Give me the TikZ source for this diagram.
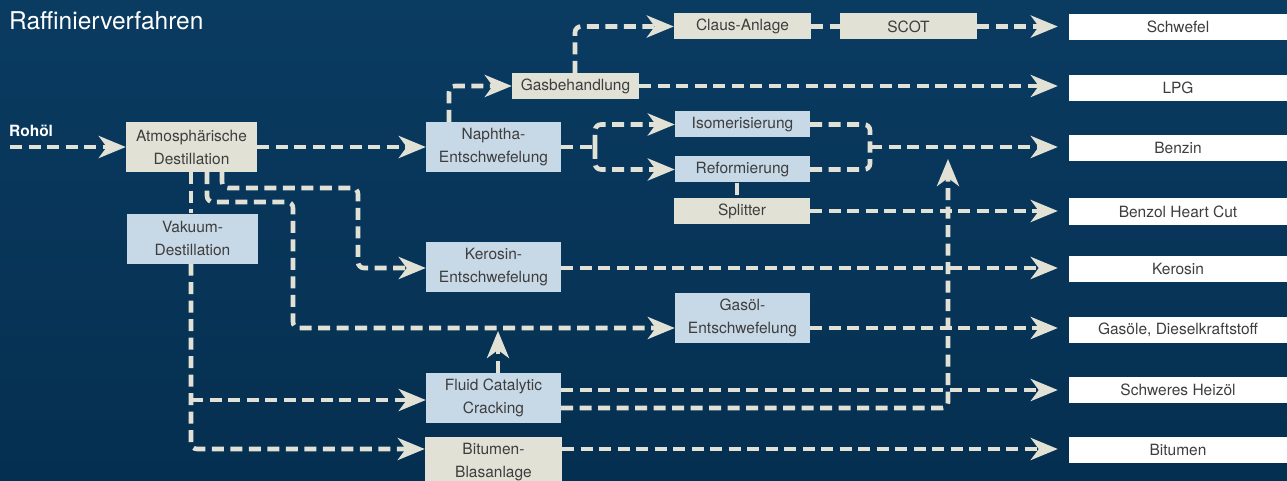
\documentclass[tikz,border=0pt]{standalone}
\usepackage{fontspec}
\setmainfont{TeX Gyre Heros}
\usetikzlibrary{arrows.meta,calc}
\definecolor{bgtop}{HTML}{0A3B61}
\definecolor{bgbot}{HTML}{052F50}
\definecolor{beige}{HTML}{E2E1D6}
\definecolor{lblue}{HTML}{C7D8E6}
\definecolor{txt}{HTML}{3E3E3E}
\begin{document}
\begin{tikzpicture}[x=1pt,y=-1pt,
  basebox/.style={inner sep=0pt, text=txt, font=\fontsize{15.5}{23}\selectfont, align=center},
  pbox/.style={basebox, fill=beige},
  bbox/.style={basebox, fill=lblue},
  obox/.style={basebox, fill=white, minimum width=218pt, minimum height=26pt},
  conn/.style={draw=beige, line width=4.6pt, dash pattern=on 12pt off 6.5pt, rounded corners=6pt},
  flow/.style={conn, -{Stealth[length=27pt,width=22pt,inset=8pt]}},
  outflow/.style={flow, shorten >=11pt}
]
\useasboundingbox (0,0) rectangle (1287,481);
\shade[top color=bgtop, bottom color=bgbot] (0,0) rectangle (1287,481);

% title and input label
\node[anchor=base west, inner sep=0pt, text=white, font=\fontsize{24.5}{28}\selectfont] (title) at (9,30) {Raffinierverfahren};
\node[anchor=base west, inner sep=0pt, text=white, font=\bfseries\fontsize{15.5}{18}\selectfont] (rohoel) at (9,136.5) {Rohöl};
\coordinate (in) at (10,147);

% process boxes
\node[pbox, minimum width=131pt, minimum height=50pt] (atm) at (191.5,147) {Atmosphärische\\Destillation};
\node[bbox, minimum width=131pt, minimum height=50pt] (vak) at (192.5,238.5) {Vakuum-\\Destillation};
\node[bbox, minimum width=135pt, minimum height=50pt] (nap) at (493.5,147) {Naphtha-\\Entschwefelung};
\node[pbox, minimum width=127pt, minimum height=26pt] (gas) at (575.5,86) {Gasbehandlung};
\node[pbox, minimum width=137pt, minimum height=26pt] (claus) at (742.5,26.5) {Claus-Anlage};
\node[pbox, minimum width=137pt, minimum height=26pt] (scot) at (908.5,26.5) {SCOT};
\node[bbox, minimum width=135pt, minimum height=26pt] (iso) at (742.5,124.5) {Isomerisierung};
\node[bbox, minimum width=135pt, minimum height=26pt] (ref) at (742.5,169.5) {Reformierung};
\node[pbox, minimum width=136pt, minimum height=26pt] (spl) at (742,211) {Splitter};
\node[bbox, minimum width=135pt, minimum height=50pt] (ker) at (493.5,267) {Kerosin-\\Entschwefelung};
\node[bbox, minimum width=135pt, minimum height=50pt] (goe) at (742.5,318) {Gasöl-\\Entschwefelung};
\node[bbox, minimum width=135pt, minimum height=50pt] (fcc) at (493.5,398) {Fluid Catalytic\\Cracking};
\node[pbox, minimum width=137pt, minimum height=50pt] (bit) at (493.5,462) {Bitumen-\\Blasanlage};

% output boxes
\node[obox] (oschwefel) at (1178,27) {Schwefel};
\node[obox] (olpg) at (1178,88) {LPG};
\node[obox] (obenzin) at (1178,148) {Benzin};
\node[obox] (obenzol) at (1178,211.5) {Benzol Heart Cut};
\node[obox] (okerosin) at (1178,269) {Kerosin};
\node[obox] (ogasoele) at (1178,330) {Gasöle, Dieselkraftstoff};
\node[obox] (oheizoel) at (1178,390) {Schweres Heizöl};
\node[obox] (obitumen) at (1178,450) {Bitumen};

% connectors
\draw[flow] (in) -- (atm.west |- in);
\draw[flow] (atm.east) -- (nap.west);

\draw[flow] (nap.north -| 449,0) |- (gas.west);
\draw[flow] (gas.north -| 575,0) |- (claus.west);
\draw[conn] (claus.east) -- (scot.west);
\draw[outflow] (scot.east) -- (oschwefel.west |- scot.east);
\draw[outflow] (gas.east) -- (olpg.west |- gas.east);

\coordinate (split) at (595,147);
\draw[conn] (nap.east) -- (split);
\draw[flow] (split) |- (iso.west);
\draw[flow] (split) |- (ref.west);
\coordinate (merge) at (870,147);
\draw[conn] (iso.east) -| (merge);
\draw[conn] (ref.east) -| (merge);
\draw[outflow] (merge) -- (obenzin.west |- merge);
\draw[conn] (ref.south -| 737,0) -- (spl.north -| 737,0);
\draw[outflow] (spl.east) -- (obenzol.west |- spl.east);

% from atmospheric distillation downwards
\draw[conn] (atm.south -| 191,0) -- (vak.north -| 191,0);
\draw[flow] (atm.south -| 207,0) |- (293,202) |- (goe.west |- 0,328);
\draw[flow] (atm.south -| 222,0) |- (358,188) |- (ker.west |- 0,268);
\coordinate (fccin) at (191,400);
\draw[flow] (vak.south -| 191,0) |- (bit.west |- 0,449);
\draw[flow] (fccin) -- (fcc.west |- fccin);

\draw[outflow] (ker.east |- 0,268) -- (okerosin.west |- 0,268);
\draw[outflow] (goe.east |- 0,328) -- (ogasoele.west |- 0,328);
\draw[outflow] (fcc.east |- 0,390) -- (oheizoel.west |- 0,390);
\coordinate (fccup) at (948,159);
\draw[flow] (fcc.east |- 0,408) -| (fccup);
\draw[flow] (fcc.north -| 498,0) -- (498,331);
\draw[outflow] (bit.east |- 0,449) -- (obitumen.west |- 0,449);
\end{tikzpicture}
\end{document}
